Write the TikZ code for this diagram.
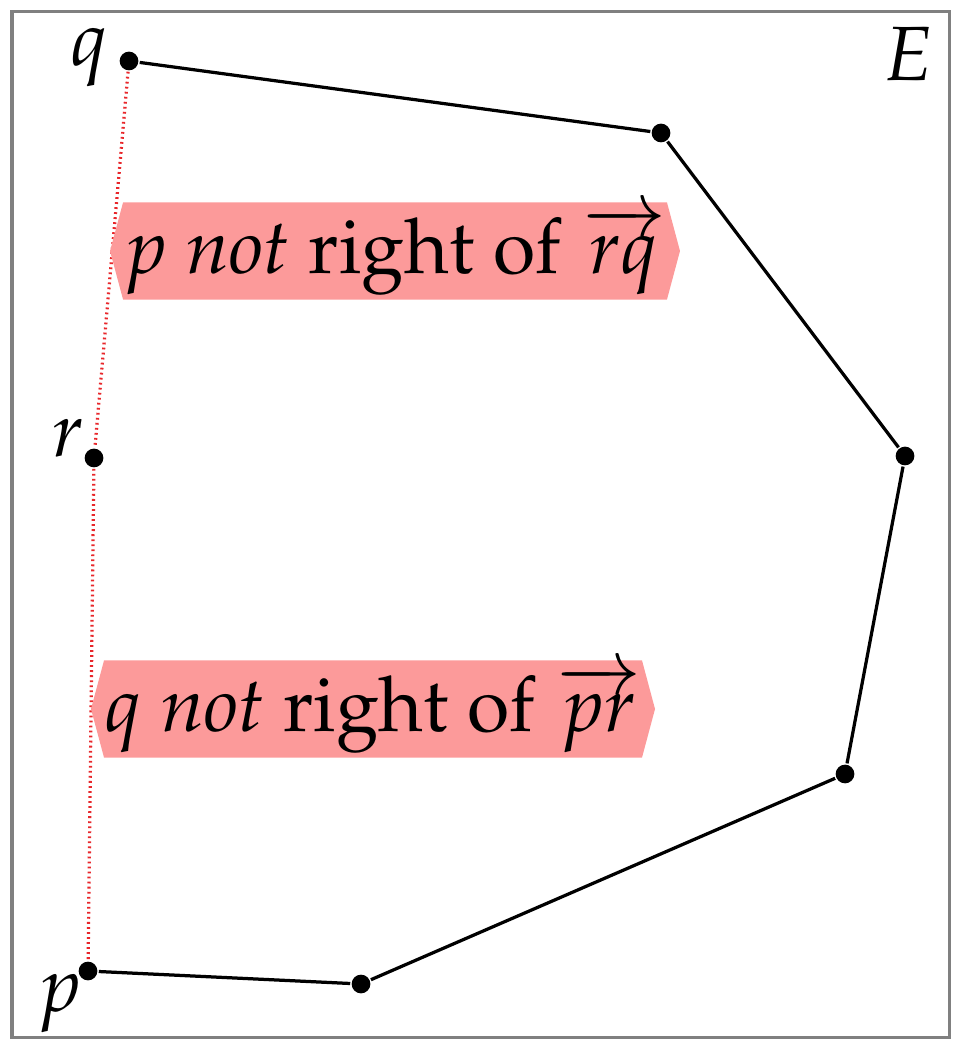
\documentclass[tikz,border=0pt]{standalone}
\usepackage[T1]{fontenc}
\usepackage{amsmath}
\usepackage{mathpazo}
\usepackage{xcolor}
\usepackage{tikz}
\usetikzlibrary{shapes.symbols}
\definecolor{HullGray}{HTML}{808080}
\definecolor{NoteRed}{HTML}{FC9A9A}
\definecolor{TestRed}{HTML}{E8262A}

\begin{document}
\begin{tikzpicture}[x=0.139pt, y=-0.139pt, every node/.style={font=\fontsize{10.7}{13}\selectfont},
    dot/.style={circle, fill=black, inner sep=0pt, minimum size=2.6pt},
    tag/.style={inner sep=0pt},
    banner/.style={signal, signal to=west and east, signal pointer angle=150, fill=NoteRed, inner sep=0pt, minimum height=13.5pt, minimum width=78.4pt},
    edge/.style={line width=0.45pt},
    test/.style={TestRed, line width=0.45pt, dash pattern=on 0.25pt off 0.45pt}]
    \useasboundingbox (0,0) rectangle (961,1049);
    \draw[HullGray, line width=0.42pt] (12,12) rectangle (949,1037);
    % points of the hull
    \node[dot] (q) at (129,61) {};
    \node[dot] (a) at (661,133) {};
    \node[dot] (b) at (905,456) {};
    \node[dot] (c) at (845,774) {};
    \node[dot] (d) at (361,984) {};
    \node[dot] (p) at (88,971) {};
    \node[dot] (r) at (94,458) {};
    % labels
    \node[tag] (ql) at (89,58) {$q$};
    \node[tag] (rl) at (68,438) {$r$};
    \node[tag] (pl) at (60,1004) {$p$};
    \node[tag] (El) at (908,54) {$E$};
    % hull edges
    \draw[edge] (q) -- (a);
    \draw[edge] (a) -- (b);
    \draw[edge] (b) -- (c);
    \draw[edge] (c) -- (d);
    \draw[edge] (d) -- (p);
    % tests against r
    \draw[test] (q) -- (r);
    \draw[test] (r) -- (p);
    \node[banner] (upper) at (395,251) {$p$ \textit{not} right of $\overrightarrow{rq}$};
    \node[banner] (lower) at (373,709) {$q$ \textit{not} right of $\overrightarrow{pr}$};
  \end{tikzpicture}
\end{document}
